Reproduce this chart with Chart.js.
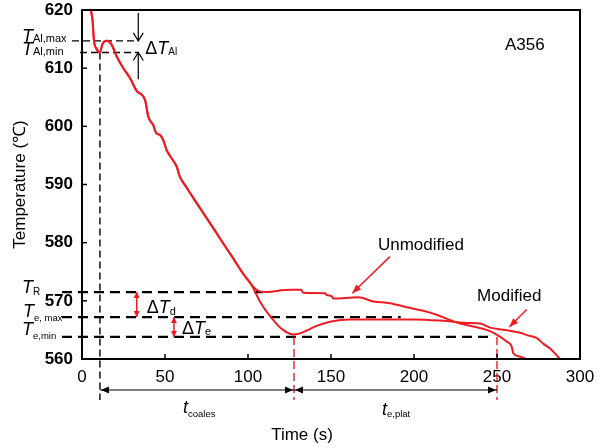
<!DOCTYPE html>
<html>
<head>
<meta charset="utf-8">
<script src="https://cdn.jsdelivr.net/npm/chart.js@4.4.1/dist/chart.umd.min.js"></script>
<style>
  html, body { margin: 0; padding: 0; background: #fff; }
</style>
</head>
<body>
<canvas id="coolingChart" width="608" height="448"></canvas>
<script>
// Cooling curves of A356 (time in s, temperature in °C)
const sharedTime = [5.4, 6.4, 7.2, 8.8, 10.8, 12.4, 15.0, 17.9, 20.9, 24.9, 28.9, 32.9, 38.0, 39.9, 42.9, 44.6, 47.0, 49.0, 51.0, 54.0, 57.0, 59.0, 62.0, 69.1, 79.1, 85.0, 91.1, 97.0, 102.0];
const sharedTemp = [620.0, 618.1, 614.8, 613.3, 612.7, 614.2, 614.7, 614.0, 612.0, 610.0, 608.3, 606.1, 604.5, 601.7, 600.2, 598.9, 598.5, 597.6, 595.9, 594.5, 593.1, 591.3, 589.9, 586.8, 582.5, 579.9, 577.3, 574.7, 572.8];

const unmodTime = [105.2, 110.2, 115.2, 120.0, 126.0, 132.0, 133.3, 146.4, 147.4, 150.4, 151.4, 166.5, 175.5, 185.5, 195.6, 205.6, 213.7, 221.7, 227.7, 235.7, 243.8, 249.8, 255.8, 258.9, 259.8, 263.9, 267.5];
const unmodTemp = [571.9, 571.5, 571.6, 571.8, 571.9, 571.9, 571.4, 571.3, 571.0, 570.8, 570.4, 570.6, 569.9, 569.6, 568.9, 568.3, 567.6, 566.7, 566.1, 565.6, 565.0, 564.2, 563.0, 562.1, 561.0, 560.4, 560.0];

const modTime = [107.2, 111.3, 115.3, 119.3, 123.3, 127.3, 131.3, 135.4, 141.4, 149.4, 161.4, 180.0, 200.0, 215.7, 223.7, 231.7, 239.8, 245.8, 255.0, 264.0, 268.0, 274.0, 278.0, 282.0, 288.0];
const modTemp = [569.9, 568.1, 566.7, 565.4, 564.6, 564.2, 564.4, 564.9, 565.7, 566.4, 566.8, 566.8, 566.8, 566.6, 566.4, 566.2, 566.1, 565.4, 565.0, 564.5, 564.1, 563.6, 562.6, 561.8, 560.0];

const xTicks = [0, 50, 100, 150, 200, 250, 300];
const yTicks = [560, 570, 580, 590, 600, 610, 620];

// characteristic temperatures / times
const T_AL_MAX = 614.7, T_AL_MIN = 612.7;
const T_R = 571.5, T_E_MAX = 567.2, T_E_MIN = 563.8;
const T_START = 10.8, T_COALES_END = 127.7, T_PLAT_END = 250;

const FONT = "'Liberation Sans', Arial, sans-serif";
const RED = "rgb(237,28,36)";

const toPoints = (ts, vs) => ts.map((t, i) => ({ x: t, y: vs[i] }));

function arrowHead(ctx, x1, y1, x2, y2, len, half, filled) {
  const ang = Math.atan2(y2 - y1, x2 - x1);
  const bx = x2 - len * Math.cos(ang), by = y2 - len * Math.sin(ang);
  const px = -Math.sin(ang) * half, py = Math.cos(ang) * half;
  ctx.beginPath();
  ctx.moveTo(bx + px, by + py);
  ctx.lineTo(x2, y2);
  ctx.lineTo(bx - px, by - py);
  if (filled) { ctx.closePath(); ctx.fill(); } else { ctx.stroke(); }
}

function line(ctx, x1, y1, x2, y2) {
  ctx.beginPath();
  ctx.moveTo(x1, y1);
  ctx.lineTo(x2, y2);
  ctx.stroke();
}

// symbol like  ΔT_sub  or  T_sub
function sym(ctx, x, base, prefix, main, sub, size, subSize, drop) {
  let cx = x;
  ctx.textAlign = "left";
  ctx.textBaseline = "alphabetic";
  if (prefix) {
    ctx.font = size + "px " + FONT;
    ctx.fillText(prefix, cx, base);
    cx += ctx.measureText(prefix).width;
  }
  ctx.font = "italic " + size + "px " + FONT;
  ctx.fillText(main, cx, base);
  cx += ctx.measureText(main).width;
  ctx.font = subSize + "px " + FONT;
  ctx.fillText(sub, cx, base + drop);
}

const guides = {
  id: "guides",
  beforeDatasetsDraw(chart) {
    const { ctx, chartArea: a, scales: { x, y } } = chart;
    const X = v => x.getPixelForValue(v), Y = v => y.getPixelForValue(v);
    ctx.save();
    ctx.strokeStyle = "#000";

    // thick dashed levels
    ctx.lineWidth = 2.2;
    ctx.setLineDash([10, 6]);
    line(ctx, a.left - 20, Y(T_R), X(109), Y(T_R));
    line(ctx, a.left - 20, Y(T_E_MAX), X(192), Y(T_E_MAX));
    line(ctx, a.left - 20, Y(T_E_MIN), X(247), Y(T_E_MIN));

    // thin dashed lines near the top
    ctx.lineWidth = 1.4;
    ctx.setLineDash([7, 4]);
    line(ctx, a.left - 10, Y(T_AL_MAX), X(33.9), Y(T_AL_MAX));
    line(ctx, a.left - 2, Y(T_AL_MIN), X(33.9), Y(T_AL_MIN));
    line(ctx, X(T_START), Y(T_AL_MIN), X(T_START), a.bottom + 41);

    ctx.strokeStyle = RED;
    ctx.setLineDash([8, 4]);
    line(ctx, X(T_COALES_END), Y(T_E_MIN), X(T_COALES_END), a.bottom + 41);
    line(ctx, X(T_PLAT_END), Y(T_E_MIN), X(T_PLAT_END), a.bottom + 41);
    ctx.restore();
  },
  afterDatasetsDraw(chart) {
    const { ctx, chartArea: a, scales: { x, y } } = chart;
    const X = v => x.getPixelForValue(v), Y = v => y.getPixelForValue(v);
    ctx.save();

    // frame and inward ticks
    ctx.strokeStyle = "#000";
    ctx.lineWidth = 2;
    ctx.strokeRect(a.left, a.top, a.right - a.left, a.bottom - a.top);
    ctx.lineWidth = 1.5;
    xTicks.forEach(v => line(ctx, X(v), a.bottom, X(v), a.bottom - 5));
    yTicks.forEach(v => line(ctx, a.left, Y(v), a.left + 5, Y(v)));

    // ΔT_Al arrows
    ctx.lineWidth = 1.2;
    const ax = X(33.9);
    line(ctx, ax, a.top + 3, ax, Y(T_AL_MAX));
    arrowHead(ctx, ax, a.top + 3, ax, Y(T_AL_MAX), 8, 5, false);
    line(ctx, ax, Y(608.1), ax, Y(T_AL_MIN));
    arrowHead(ctx, ax, Y(608.1), ax, Y(T_AL_MIN), 8, 5, false);

    // time span arrows
    ctx.fillStyle = "#000";
    const ay = a.bottom + 31;
    line(ctx, X(T_START), ay, X(T_COALES_END), ay);
    arrowHead(ctx, X(T_COALES_END), ay, X(T_START) + 1, ay, 8, 3.5, true);
    arrowHead(ctx, X(T_START), ay, X(T_COALES_END) - 1, ay, 8, 3.5, true);
    line(ctx, X(T_COALES_END), ay, X(T_PLAT_END), ay);
    arrowHead(ctx, X(T_PLAT_END), ay, X(T_COALES_END) + 1, ay, 8, 3.5, true);
    arrowHead(ctx, X(T_COALES_END), ay, X(T_PLAT_END) - 1, ay, 8, 3.5, true);

    // red ΔT arrows
    ctx.strokeStyle = RED;
    ctx.fillStyle = RED;
    ctx.lineWidth = 1.5;
    [[32.95, T_R, T_E_MAX], [55.4, T_E_MAX, T_E_MIN]].forEach(([t, hi, lo]) => {
      line(ctx, X(t), Y(hi), X(t), Y(lo));
      arrowHead(ctx, X(t), Y(lo), X(t), Y(hi), 6, 3, true);
      arrowHead(ctx, X(t), Y(hi), X(t), Y(lo), 6, 3, true);
    });

    // red pointer arrows
    [[185.5, 577.6, 162.8, 571.3], [267.9, 568.5, 257.4, 565.5]].forEach(([t1, v1, t2, v2]) => {
      line(ctx, X(t1), Y(v1), X(t2), Y(v2));
      arrowHead(ctx, X(t1), Y(v1), X(t2), Y(v2), 9, 3.5, true);
    });

    // texts
    ctx.fillStyle = "#000";
    ctx.font = "17px " + FONT;
    ctx.textBaseline = "middle";
    ctx.textAlign = "left";
    ctx.fillText("A356", X(254.8), Y(614));
    ctx.fillText("Unmodified", X(178.3), Y(579.6));
    ctx.fillText("Modified", X(238), Y(570.7));

    sym(ctx, 22, 42, "", "T", "Al,max", 18, 11, 0);
    sym(ctx, 22, 55, "", "T", "Al,min", 18, 11, 0);
    sym(ctx, X(38.1), 54, "\u0394", "T", "Al", 18, 10, 1);
    sym(ctx, 22, 293, "", "T", "R", 18, 10, 2);
    sym(ctx, 23, 317, "", "T", "e, max", 18, 9.5, 4);
    sym(ctx, 22, 335, "", "T", "e,min", 18, 9.5, 4);
    sym(ctx, X(39.0), 313, "\u0394", "T", "d", 18, 11, 2);
    sym(ctx, X(60.2), 334, "\u0394", "T", "e", 18, 11, 1);
    sym(ctx, 183, 413, "", "t", "coales", 18, 9.5, 4);
    sym(ctx, 382, 415, "", "t", "e,plat", 18, 9.5, 2);

    // axis titles
    ctx.font = "17px " + FONT;
    ctx.textAlign = "center";
    ctx.textBaseline = "middle";
    ctx.fillText("Time (s)", 302, 435);
    ctx.translate(20, (a.top + a.bottom) / 2);
    ctx.rotate(-Math.PI / 2);
    ctx.fillText("Temperature (\u2103)", 0, 0);
    ctx.restore();
  }
};

const ctx = document.getElementById("coolingChart");
new Chart(ctx.getContext("2d"), {
  type: "line",
  data: {
    datasets: [
      {
        label: "Unmodified",
        data: toPoints(sharedTime.concat(unmodTime), sharedTemp.concat(unmodTemp)),
        borderColor: RED,
        borderWidth: 2,
        pointRadius: 0,
        cubicInterpolationMode: "monotone"
      },
      {
        label: "Modified",
        data: toPoints(sharedTime.concat(modTime), sharedTemp.concat(modTemp)),
        borderColor: RED,
        borderWidth: 2,
        pointRadius: 0,
        cubicInterpolationMode: "monotone"
      }
    ]
  },
  options: {
    responsive: false,
    animation: false,
    layout: { padding: { top: 10, right: 28, left: 0, bottom: 0 } },
    plugins: { legend: { display: false }, tooltip: { enabled: false } },
    scales: {
      x: {
        type: "linear",
        min: 0,
        max: 300,
        afterBuildTicks: s => { s.ticks = xTicks.map(v => ({ value: v })); },
        afterFit: s => { s.height = 89; s.paddingLeft = 0; s.paddingRight = 0; },
        grid: { display: false, drawTicks: false },
        border: { display: false },
        ticks: { color: "#000", padding: 8, maxRotation: 0, autoSkip: false, font: { family: FONT, size: 17 } }
      },
      y: {
        type: "linear",
        min: 560,
        max: 620,
        afterBuildTicks: s => { s.ticks = yTicks.map(v => ({ value: v })); },
        afterFit: s => { s.width = 82; s.paddingTop = 0; s.paddingBottom = 0; },
        grid: { display: false, drawTicks: false },
        border: { display: false },
        ticks: { color: "#000", padding: 9, autoSkip: false, font: { family: FONT, size: 17, weight: "bold" } }
      }
    }
  },
  plugins: [guides]
});
</script>
</body>
</html>
